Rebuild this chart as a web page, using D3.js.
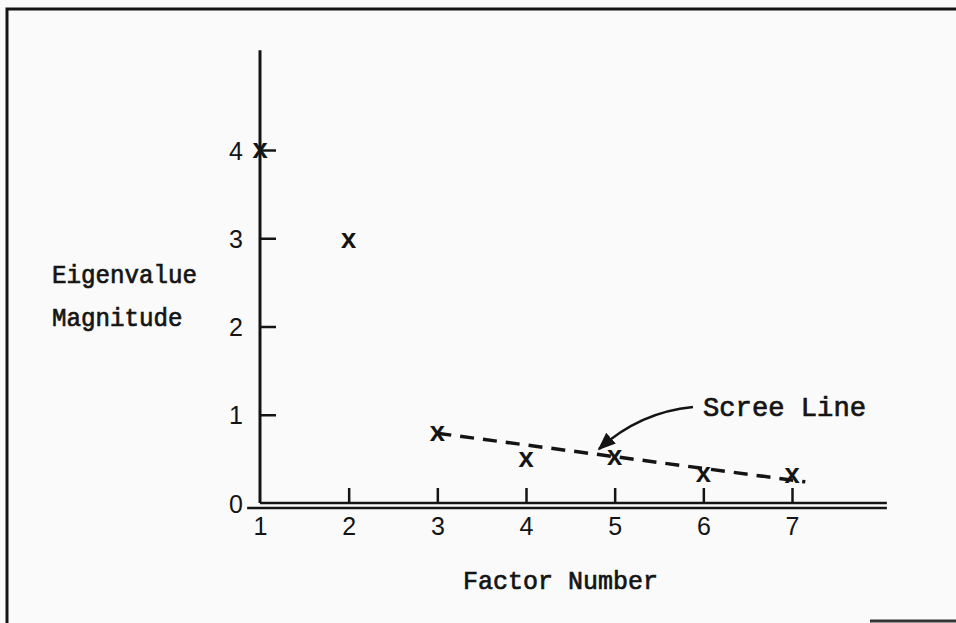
<!DOCTYPE html>
<html><head><meta charset="utf-8">
<script src="https://cdn.jsdelivr.net/npm/d3@7"></script>
<style>
html,body{margin:0;padding:0;background:#fafafa;}
svg{display:block;}
</style></head>
<body>
<svg id="chart" width="956" height="623"></svg>
<script>
// ---- data ----
const factors = [1, 2, 3, 4, 5, 6, 7];
const eigenvalues = [4.0, 2.98, 0.79, 0.5, 0.52, 0.33, 0.32];
const yTickValues = [0, 1, 2, 3, 4];
const xTickValues = [1, 2, 3, 4, 5, 6, 7];
const screeX = [3, 7.15];
const screeY = [0.79, 0.24];
const xLabel = "Factor Number";
const yLabelLines = ["Eigenvalue", "Magnitude"];
const annotation = "Scree Line";

const svg = d3.select("#chart");
const ink = "#141414";
const mono = "'Liberation Mono','DejaVu Sans Mono',monospace";
const digitFont = "'Liberation Sans',sans-serif";

const x = d3.scaleLinear().domain([1, 7]).range([260, 792]);
const y = d3.scaleLinear().domain([0, 4]).range([503, 150]);
const yTop = 5.13, xLeft = 0.855, xRight = 8.07;

// frame
svg.append("path").attr("d", "M7,623 L7,9 L956,9").attr("fill","none").attr("stroke", ink).attr("stroke-width", 3);
svg.append("line").attr("x1", 870).attr("x2", 956).attr("y1", 621).attr("y2", 621).attr("stroke", "#333").attr("stroke-width", 3);

// y axis
const yAxis = d3.axisLeft(y).tickValues(yTickValues).tickSizeInner(-16).tickSizeOuter(0).tickFormat(d3.format("d"));
const gy = svg.append("g").attr("transform", `translate(${x(1)},0)`).call(yAxis);
gy.select(".domain").remove();
gy.selectAll(".tick line").attr("stroke", ink).attr("stroke-width", 2.5);
gy.selectAll(".tick text").attr("font-family", digitFont).attr("font-size", 25).attr("fill", ink)
  .attr("dy", "0.36em").attr("x", -17);
gy.selectAll(".tick").filter(d => d === 0).select("line").remove();
svg.append("line").attr("x1", x(1)).attr("x2", x(1)).attr("y1", y(0)).attr("y2", y(yTop)).attr("stroke", ink).attr("stroke-width", 3);

// x axis
const xAxis = d3.axisTop(x).tickValues(xTickValues).tickSizeInner(15).tickSizeOuter(0).tickFormat(d3.format("d"));
const gx = svg.append("g").attr("transform", `translate(0,${y(0)})`).call(xAxis);
gx.select(".domain").remove();
gx.selectAll(".tick line").attr("stroke", ink).attr("stroke-width", 2.5);
gx.selectAll(".tick").filter(d => d === 1).select("line").remove();
gx.selectAll(".tick text").attr("font-family", digitFont).attr("font-size", 25).attr("fill", ink)
  .attr("y", 32).attr("dy", 0);
svg.append("line").attr("x1", x(1)).attr("x2", x(xRight)).attr("y1", y(0)).attr("y2", y(0)).attr("stroke", ink).attr("stroke-width", 2.5);
svg.append("line").attr("x1", x(xLeft)).attr("x2", x(xRight)).attr("y1", y(0) + 5).attr("y2", y(0) + 5).attr("stroke", ink).attr("stroke-width", 2.5);

// scree line
svg.append("path")
  .attr("d", d3.line().x(d => x(d[0])).y(d => y(d[1]))(d3.zip(screeX, screeY)))
  .attr("fill", "none").attr("stroke", ink).attr("stroke-width", 3.5).attr("stroke-dasharray", "14,9");

// points
svg.append("g").selectAll("text").data(factors).join("text")
  .attr("x", d => x(d)).attr("y", (d, i) => y(eigenvalues[i]))
  .attr("dy", "0.3em")
  .attr("text-anchor", "middle")
  .attr("font-family", mono).attr("font-weight", "bold").attr("font-size", 27).attr("fill", ink)
  .text("x");

// labels
const labelStyle = sel => sel.attr("font-family", mono).attr("fill", ink).attr("stroke", ink).attr("stroke-width", 0.7)
  .attr("lengthAdjust", "spacingAndGlyphs");
svg.append("g").selectAll("text").data(yLabelLines).join("text")
  .attr("x", 52).attr("y", (d, i) => 283 + i * 43)
  .attr("font-size", 26)
  .attr("textLength", (d) => d.length * 14.5)
  .call(labelStyle)
  .text(d => d);
svg.append("text").attr("x", 463).attr("y", 589)
  .attr("font-size", 26).attr("textLength", 195)
  .call(labelStyle)
  .text(xLabel);
svg.append("text").attr("x", 703).attr("y", 416)
  .attr("font-size", 27).attr("textLength", 163)
  .call(labelStyle)
  .text(annotation);

// arrow
svg.append("defs").append("marker").attr("id", "ah").attr("viewBox", "0 0 10 10")
  .attr("refX", 9).attr("refY", 5).attr("markerWidth", 18).attr("markerHeight", 18)
  .attr("markerUnits", "userSpaceOnUse").attr("orient", "auto")
  .append("path").attr("d", "M0,1 L10,5 L0,9 z").attr("fill", ink);
svg.append("path").attr("d", "M693,407 Q640,412 599,449")
  .attr("fill", "none").attr("stroke", ink).attr("stroke-width", 2.5).attr("marker-end", "url(#ah)");
</script>
</body></html>
